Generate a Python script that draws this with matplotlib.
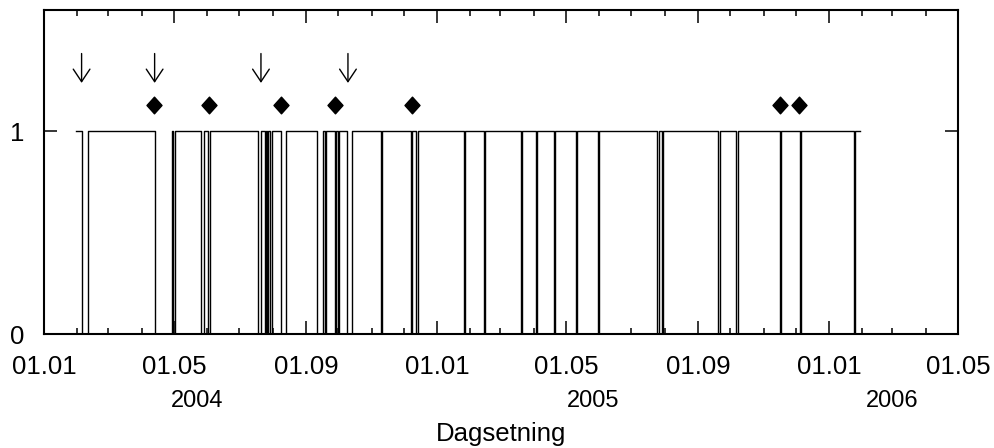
import numpy as np
import matplotlib
matplotlib.use('Agg')
import matplotlib.pyplot as plt
import matplotlib.dates as mdates
from matplotlib.path import Path
from matplotlib import rc
from matplotlib.transforms import blended_transform_factory

rc('font', family='Liberation Sans')

# series: 1 from start to end, 0 inside the gaps below
start = "2004-01-31"
end = "2006-01-30"
gap_from = ["2004-02-05", "2004-04-13", "2004-04-30", "2004-05-26", "2004-06-02",
            "2004-07-18", "2004-07-25", "2004-07-27", "2004-07-29", "2004-08-09",
            "2004-09-11", "2004-09-19", "2004-09-28", "2004-10-01", "2004-10-09",
            "2004-11-10", "2004-12-08", "2004-12-12", "2005-01-26", "2005-02-14",
            "2005-03-20", "2005-04-03", "2005-04-20", "2005-05-10", "2005-05-31",
            "2005-07-25", "2005-07-29", "2005-09-20", "2005-10-06", "2005-11-16",
            "2005-12-05", "2006-01-24"]
gap_to = ["2004-02-11", "2004-04-29", "2004-05-02", "2004-05-29", "2004-06-04",
          "2004-07-21", "2004-07-26", "2004-07-28", "2004-07-31", "2004-08-13",
          "2004-09-17", "2004-09-20", "2004-09-29", "2004-10-02", "2004-10-14",
          "2004-11-11", "2004-12-09", "2004-12-14", "2005-01-27", "2005-02-15",
          "2005-03-21", "2005-04-04", "2005-04-21", "2005-05-11", "2005-06-01",
          "2005-07-27", "2005-07-30", "2005-09-21", "2005-10-08", "2005-11-17",
          "2005-12-06", "2006-01-25"]

arrow_dates = ["2004-02-05", "2004-04-13", "2004-07-21", "2004-10-10"]
diamond_dates = ["2004-04-12", "2004-06-03", "2004-08-09", "2004-09-28",
                 "2004-12-09", "2005-11-16", "2005-12-04"]

year_labels = ["2004", "2005", "2006"]
year_dates = ["2004-05-23", "2005-05-26", "2006-03-01"]

def dn(s):
    return mdates.date2num(np.datetime64(s))

t = [start]
v = [1]
for a, b in zip(gap_from, gap_to):
    t += [a, b]
    v += [0, 1]
t.append(end)
v.append(1)
t = [dn(s) for s in t]

fig = plt.figure(figsize=(9.95, 4.48), dpi=100)
ax = fig.add_axes([44/995., 1-334/448., 914/995., 324/448.])

ax.step(t, v, where='post', color='k', lw=1.0)

# arrows above the series
for d in arrow_dates:
    ax.annotate('', xy=(dn(d), 1.24), xytext=(dn(d), 1.385),
                arrowprops=dict(arrowstyle='->, head_length=0.45, head_width=0.3',
                                color='k', lw=1.0, mutation_scale=20,
                                shrinkA=0, shrinkB=0))

diamond = Path([(0, 1), (0.9, 0), (0, -1), (-0.9, 0), (0, 1)],
               [Path.MOVETO, Path.LINETO, Path.LINETO, Path.LINETO, Path.CLOSEPOLY])
ax.plot([dn(d) for d in diamond_dates], [1.13]*len(diamond_dates), linestyle='none',
        marker=diamond, markersize=12, color='k')

ax.set_xlim(dn("2004-01-01"), dn("2006-05-01"))
ax.set_ylim(0, 1.6)
ax.set_yticks([0, 1])
ax.xaxis.set_major_locator(mdates.MonthLocator(bymonth=[1, 5, 9]))
ax.xaxis.set_minor_locator(mdates.MonthLocator())
ax.xaxis.set_major_formatter(mdates.DateFormatter('%d.%m'))
ax.tick_params(which='both', direction='in', top=True, right=True, width=1.1)
ax.tick_params(which='major', length=9.5)
ax.tick_params(which='minor', length=4.3)
ax.tick_params(axis='x', pad=15, labelsize=18.5)
ax.tick_params(axis='y', pad=14, labelsize=18.5)
for s in ax.spines.values():
    s.set_linewidth(1.5)

tr = blended_transform_factory(ax.transData, ax.transAxes)
for lab, d in zip(year_labels, year_dates):
    ax.text(dn(d), -0.207, lab, transform=tr, ha='center', va='center', fontsize=17)

ax.set_xlabel("Dagsetning", fontsize=18.5)
ax.xaxis.set_label_coords(0.5, -0.31)
ax.xaxis.label.set_va('center')

plt.savefig("out.png", dpi=100)
